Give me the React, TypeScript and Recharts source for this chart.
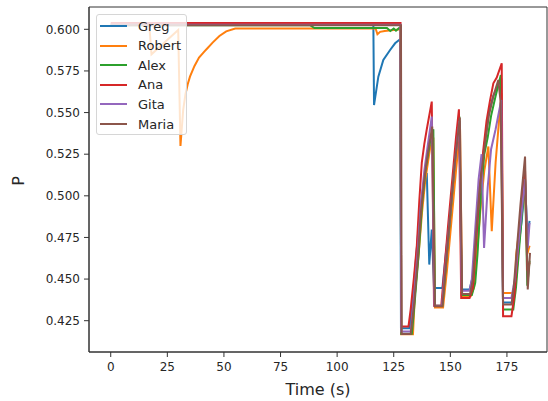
import { LineChart, Line, XAxis, YAxis, Legend, ReferenceArea } from "recharts";

// time (s) and P for each person
const GREG_T = [0, 116, 116.3, 118.2, 120.4, 123.4, 125.6, 127.8, 128.2, 132, 133.5, 135, 136.5, 138, 139.6, 140.7, 141.8, 142.8, 146.5, 148, 150, 152, 154, 155, 158.5, 160, 161.5, 163, 165, 167, 169, 171, 172.5, 173.3, 177.3, 179, 180.5, 181.5, 182.5, 183, 184, 185];
const GREG_P = [0.603, 0.603, 0.5545, 0.5716, 0.5816, 0.5876, 0.5916, 0.594, 0.4205, 0.4205, 0.44, 0.465, 0.49, 0.505, 0.5137, 0.4587, 0.4797, 0.4447, 0.4447, 0.465, 0.49, 0.52, 0.545, 0.4437, 0.4437, 0.452, 0.475, 0.505, 0.53, 0.55, 0.56, 0.566, 0.5706, 0.436, 0.436, 0.45, 0.4737, 0.4847, 0.5, 0.51, 0.475, 0.485];

const ROBERT_T = [0, 17, 18, 29.8, 30.8, 32, 33, 34, 35, 37, 39, 42, 45, 48, 51, 55, 117, 117.8, 119, 121, 128, 128.3, 133.5, 134.4, 136, 137.5, 139, 141, 142.5, 143.2, 146.8, 148.5, 150.5, 152.5, 154.3, 155.2, 159, 160.5, 162, 163.5, 165, 166.8, 168.3, 170, 171.5, 172.6, 173.3, 176.8, 178.6, 179, 180.5, 182, 183, 184, 185];
const ROBERT_P = [0.603, 0.603, 0.585, 0.5996, 0.53, 0.5516, 0.561, 0.567, 0.5716, 0.578, 0.583, 0.5876, 0.592, 0.596, 0.5988, 0.6005, 0.6005, 0.597, 0.5985, 0.599, 0.6, 0.4168, 0.4168, 0.4417, 0.465, 0.49, 0.51, 0.528, 0.535, 0.433, 0.433, 0.455, 0.485, 0.515, 0.54, 0.4397, 0.4397, 0.445, 0.47, 0.495, 0.515, 0.5296, 0.4787, 0.52, 0.545, 0.5616, 0.4417, 0.4417, 0.4417, 0.4637, 0.48, 0.5, 0.505, 0.465, 0.47];

const ALEX_T = [0, 88, 90, 122, 123.5, 125, 126, 127.5, 128, 128.3, 133, 134.5, 136, 137.5, 139, 141, 142.5, 143.2, 146.5, 148.2, 150, 152, 154, 155, 159.5, 161, 162, 163.5, 165, 166.5, 168, 170, 172.3, 173.3, 177.8, 179, 180.5, 182, 183, 184, 185];
const ALEX_P = [0.6025, 0.6025, 0.6008, 0.6008, 0.599, 0.6005, 0.5992, 0.601, 0.601, 0.4172, 0.4172, 0.44, 0.465, 0.495, 0.515, 0.532, 0.54, 0.434, 0.434, 0.46, 0.488, 0.52, 0.5476, 0.4405, 0.4405, 0.4478, 0.465, 0.5, 0.525, 0.535, 0.548, 0.56, 0.5726, 0.4317, 0.4317, 0.445, 0.47, 0.495, 0.51, 0.446, 0.461];

const ANA_T = [0, 128, 128.3, 131.5, 132.5, 134, 135.2, 136.3, 137.4, 138.5, 139.6, 141.8, 142.8, 146, 147.5, 149, 151, 152.5, 153.8, 154.8, 158.5, 160, 161, 163, 164.6, 166, 167.5, 169, 170.5, 172.7, 173.3, 177, 178.3, 180, 181.5, 183, 184, 185];
const ANA_P = [0.6038, 0.6038, 0.4215, 0.4215, 0.432, 0.452, 0.47, 0.497, 0.52, 0.531, 0.54, 0.5566, 0.434, 0.434, 0.458, 0.482, 0.512, 0.535, 0.552, 0.4387, 0.4387, 0.445, 0.465, 0.505, 0.528, 0.545, 0.557, 0.5676, 0.571, 0.5796, 0.4277, 0.4277, 0.44, 0.47, 0.495, 0.515, 0.455, 0.46];

const GITA_T = [0, 128, 128.3, 132.5, 134, 135.5, 137, 138.5, 140, 141.8, 143, 146.3, 148, 150, 152, 154, 155, 158.5, 159.5, 161, 162.5, 163.8, 164.9, 166.5, 168, 170, 172.5, 173.2, 177, 178.5, 180, 181.5, 183, 184.2, 185];
const GITA_P = [0.6028, 0.6028, 0.4185, 0.4185, 0.44, 0.465, 0.495, 0.515, 0.53, 0.5476, 0.434, 0.434, 0.46, 0.49, 0.52, 0.545, 0.443, 0.443, 0.45, 0.48, 0.51, 0.525, 0.4687, 0.505, 0.528, 0.54, 0.5576, 0.4387, 0.4387, 0.45, 0.47, 0.49, 0.51, 0.4687, 0.4837];

const MARIA_T = [0, 128.2, 128.5, 132.5, 134, 135.5, 137, 138.5, 140, 142, 143.2, 146.5, 148, 150, 152, 154.2, 155.2, 158.7, 160, 161.5, 163, 165, 167, 169, 171.2, 172.2, 173.3, 177, 178, 179.5, 181, 183, 184.2, 185.2];
const MARIA_P = [0.6025, 0.6025, 0.417, 0.417, 0.435, 0.46, 0.49, 0.51, 0.525, 0.5416, 0.4337, 0.4337, 0.458, 0.49, 0.52, 0.547, 0.441, 0.441, 0.45, 0.48, 0.505, 0.528, 0.548, 0.56, 0.5696, 0.5566, 0.4347, 0.4347, 0.445, 0.47, 0.495, 0.5236, 0.4437, 0.4657];

const NAMES = ["Greg", "Robert", "Alex", "Ana", "Gita", "Maria"];
const COLORS = ["#1f77b4", "#ff7f0e", "#2ca02c", "#d62728", "#9467bd", "#8c564b"];
const TIMES = [GREG_T, ROBERT_T, ALEX_T, ANA_T, GITA_T, MARIA_T];
const VALUES = [GREG_P, ROBERT_P, ALEX_P, ANA_P, GITA_P, MARIA_P];

const X_TICKS = [0, 25, 50, 75, 100, 125, 150, 175];
const Y_TICKS = [0.425, 0.45, 0.475, 0.5, 0.525, 0.55, 0.575, 0.6];

const X_DOMAIN = [-9.6, 192.7];
const Y_DOMAIN = [0.4062, 0.6134];

const FONT = "DejaVu Sans, sans-serif";
const INK = "#262626";

const series = NAMES.map((name, i) => ({
  name,
  color: COLORS[i],
  data: TIMES[i].map((t, j) => ({ t, p: VALUES[i][j] })),
}));

// keep the plotting order in the legend (recharts sorts the payload by name)
function LegendBox() {
  return (
    <div
      style={{
        width: 89,
        height: 119,
        border: "1px solid #d6d6d6",
        borderRadius: 3,
        background: "rgba(255,255,255,0.8)",
        fontFamily: FONT,
        fontSize: 13,
        color: INK,
        position: "relative",
      }}
    >
      {series.map((s, i) => (
        <div
          key={s.name}
          style={{ position: "absolute", left: 3, top: 2 + i * 19.6, height: 18, display: "flex", alignItems: "center" }}
        >
          <span style={{ display: "inline-block", width: 27, height: 2, background: s.color, marginRight: 11 }} />
          <span>{s.name}</span>
        </div>
      ))}
    </div>
  );
}

const YLabel = () => (
  <text x={18} y={181} transform="rotate(-90 18 181)" textAnchor="middle" dominantBaseline="central" fontFamily={FONT} fontSize={16} fill={INK}>
    P
  </text>
);

export default function App() {
  const tickStyle = { fontFamily: FONT, fontSize: 12, fill: INK };
  return (
    <div style={{ position: "absolute", left: 0, top: 0, width: 548, height: 401, background: "#fff" }}>
      <LineChart width={548} height={401} data={series[0].data} margin={{ top: 7, right: 1, bottom: 0, left: 0 }}>
        <XAxis
          dataKey="t"
          type="number"
          domain={X_DOMAIN}
          ticks={X_TICKS}
          allowDataOverflow
          height={49}
          tickSize={5}
          tickMargin={5}
          stroke="#333"
          tick={tickStyle}
          label={{ value: "Time (s)", position: "insideBottom", offset: 6, fontFamily: FONT, fontSize: 16, fill: INK }}
        />
        <YAxis
          type="number"
          domain={Y_DOMAIN}
          ticks={Y_TICKS}
          allowDataOverflow
          width={89}
          tickSize={5}
          tickMargin={4}
          stroke="#333"
          tick={tickStyle}
          tickFormatter={(v: number) => v.toFixed(3)}
          label={{ content: YLabel }}
        />
        <ReferenceArea
          x1={X_DOMAIN[0]}
          x2={X_DOMAIN[1]}
          y1={Y_DOMAIN[0]}
          y2={Y_DOMAIN[1]}
          fill="none"
          fillOpacity={0}
          stroke="#333"
          strokeWidth={1}
          ifOverflow="visible"
        />
        {series.map((s) => (
          <Line
            key={s.name}
            data={s.data}
            dataKey="p"
            name={s.name}
            type="linear"
            stroke={s.color}
            strokeWidth={2}
            dot={false}
            activeDot={false}
            isAnimationActive={false}
          />
        ))}
        <Legend
          layout="vertical"
          align="center"
          verticalAlign="middle"
          content={<LegendBox />}
          wrapperStyle={{ left: 96, top: 14, width: 91 }}
        />
      </LineChart>
    </div>
  );
}
